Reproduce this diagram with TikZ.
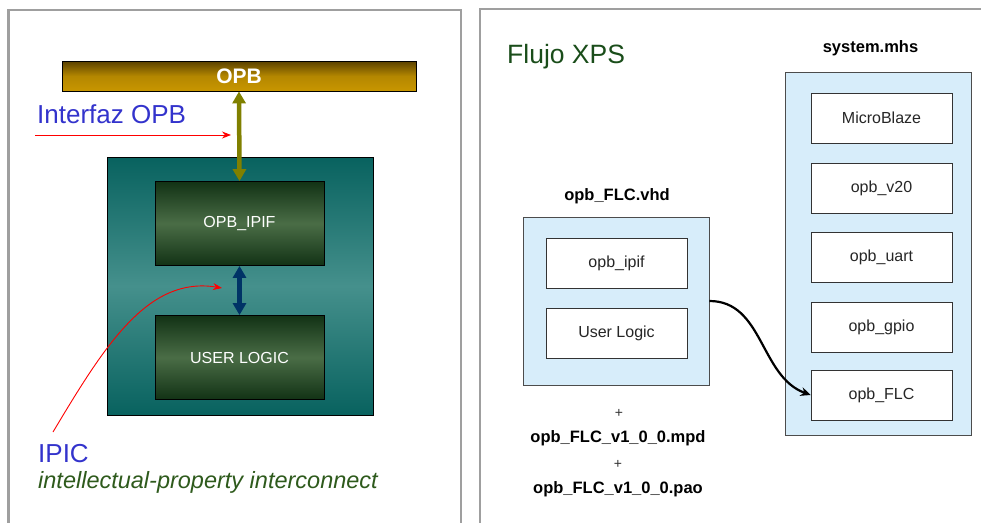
\documentclass[tikz,border=0pt]{standalone}
\usepackage{fontspec}
\setmainfont{Liberation Sans}
\usetikzlibrary{positioning,arrows.meta}
\usepackage{xcolor}
\definecolor{busdark}{HTML}{5A4100}
\definecolor{busgold}{HTML}{C89600}
\definecolor{tealdark}{HTML}{08625F}
\definecolor{teallight}{HTML}{45908C}
\definecolor{greendark}{HTML}{123215}
\definecolor{greenlight}{HTML}{4A6D46}
\definecolor{olivebus}{HTML}{808000}
\definecolor{navybus}{HTML}{003366}
\definecolor{labelblue}{HTML}{3333CC}
\definecolor{labelgreen}{HTML}{2E5A1C}
\definecolor{flowgreen}{HTML}{1A4D1A}
\definecolor{fileblue}{HTML}{D7EDFA}

\begin{document}
\begin{tikzpicture}[x=1pt,y=-1pt,
  panel/.style={draw=gray!75,line width=2.5pt},
  block/.style={draw=black,line width=0.8pt,top color=greendark,bottom color=greendark,middle color=greenlight,
    text=white,font=\fontsize{16}{18}\selectfont,minimum width=169,minimum height=84},
  filebox/.style={draw=black!70,line width=0.8pt,fill=fileblue},
  part/.style={draw=black!80,line width=0.8pt,fill=white,text=black!85,
    font=\fontsize{16}{18}\selectfont,minimum width=141,minimum height=50},
  filename/.style={font=\bfseries\fontsize{16.5}{18}\selectfont,anchor=base},
  biglabel/.style={text=labelblue,font=\fontsize{26}{30}\selectfont,anchor=base west,inner sep=0pt},
  redarrow/.style={draw=red,line width=0.9pt,-{Stealth[length=9pt,width=7pt]}}]
\useasboundingbox (0,0) rectangle (981,522);
\draw[panel] (8.5,10) rectangle (461,540);
\draw[panel] (480,9) rectangle (995,540);

\node[draw=black,line width=0.8pt,top color=busdark,bottom color=busgold,middle color=busgold!90!black,
  text=white,font=\bfseries\fontsize{21}{24}\selectfont,minimum width=354,minimum height=30] (opb) at (239,76) {OPB};
\node[draw=black,line width=0.8pt,top color=tealdark,bottom color=tealdark,middle color=teallight,
  minimum width=266,minimum height=258] (core) at (240,286) {};
\node[block] (ipif) at (239.5,223.5) {OPB\_IPIF};
\node[block] (user) at (239.5,357.5) {USER LOGIC};
\draw[olivebus,line width=4.5pt,{Triangle[length=12pt,width=13pt]}-{Triangle[length=12pt,width=13pt]}] (opb.south) -- (ipif.north);
\draw[navybus,line width=4.5pt,{Triangle[length=12pt,width=13pt]}-{Triangle[length=12pt,width=13pt]}] (ipif.south) -- (user.north);

\node[biglabel] (intf) at (37,123) {Interfaz OPB};
\coordinate (intfa) at (35,135);
\coordinate (intfb) at (231,135);
\draw[redarrow] (intfa) -- (intfb);

\node[biglabel] (ipic) at (38,462) {IPIC};
\node[text=labelgreen,font=\itshape\fontsize{23.5}{26}\selectfont,anchor=base west,inner sep=0pt] (ipicdesc) at (38,488) {intellectual-property interconnect};
\coordinate (ipica) at (53,432);
\coordinate (ipicb) at (222,288);
\draw[redarrow] (ipica) .. controls (105,345) and (148,276) .. (ipicb);

\node[text=flowgreen,font=\fontsize{26.5}{30}\selectfont,anchor=base west,inner sep=0pt] (flujo) at (507,63) {Flujo XPS};

\node[filebox,minimum width=186,minimum height=363] (mhs) at (878,253.5) {};
\node[filename] (mhslabel) at (870.5,52) {system.mhs};
\node[part] (mb) at (881.5,118) {MicroBlaze};
\node[part] (v20) at (881.5,188) {opb\_v20};
\node[part] (uart) at (881.5,257) {opb\_uart};
\node[part] (gpio) at (881.5,327) {opb\_gpio};
\node[part] (flc) at (881.5,395) {opb\_FLC};

\node[filebox,minimum width=186,minimum height=168] (vhd) at (616,301) {};
\node[filename] (vhdlabel) at (617,200) {opb\_FLC.vhd};
\node[part] (ipifpart) at (616.5,263) {opb\_ipif};
\node[part] (userpart) at (616.5,333) {User Logic};

\draw[line width=2.2pt,-{Stealth[length=10pt,width=9pt]}] (vhd.east) to[out=0,in=160] (flc.west);

\node[text=black!80,font=\fontsize{14}{16}\selectfont] (plusa) at (619,413) {+};
\node[filename] (mpd) at (618,442) {opb\_FLC\_v1\_0\_0.mpd};
\node[text=black!80,font=\fontsize{14}{16}\selectfont] (plusb) at (618,464) {+};
\node[filename] (pao) at (618,493) {opb\_FLC\_v1\_0\_0.pao};
\end{tikzpicture}
\end{document}
